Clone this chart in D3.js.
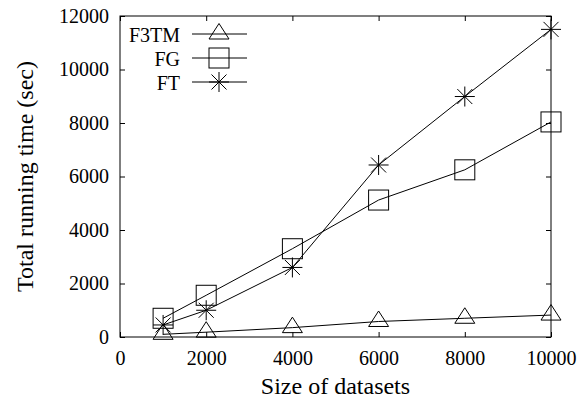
<!DOCTYPE html>
<html>
<head>
<meta charset="utf-8">
<script src="https://cdn.jsdelivr.net/npm/d3@7"></script>
<style>
  body { margin: 0; background: #fff; }
  svg { font-family: "Liberation Serif", "Times New Roman", serif; }
</style>
</head>
<body>
<svg width="577" height="399"></svg>
<script>
const sizes = [1000, 2000, 4000, 6000, 8000, 10000];
const f3tm = [100, 180, 350, 580, 700, 820];
const fg = [700, 1560, 3300, 5120, 6250, 8040];
const ft = [450, 1000, 2600, 6430, 8990, 11500];
const xTicks = [0, 2000, 4000, 6000, 8000, 10000];
const yTicks = [0, 2000, 4000, 6000, 8000, 10000, 12000];

const series = [
  { name: 'F3TM', values: f3tm, shape: 'triangle' },
  { name: 'FG', values: fg, shape: 'square' },
  { name: 'FT', values: ft, shape: 'star' }
];

const svg = d3.select('svg');
const m = { top: 16, right: 26, bottom: 62, left: 120 };
const width = +svg.attr('width') - m.left - m.right;
const height = +svg.attr('height') - m.top - m.bottom;
const g = svg.append('g').attr('transform', `translate(${m.left}, ${m.top})`);

const x = d3.scaleLinear().domain([0, 10000]).range([0, width]);
const y = d3.scaleLinear().domain([0, 12000]).range([height, 0]);
const fmt = d3.format('d');

// gnuplot style: inward ticks, mirrored on all sides
const tick = 5;
g.append('g')
  .attr('transform', `translate(0, ${height})`)
  .call(d3.axisBottom(x).tickValues(xTicks).tickFormat(fmt).tickSizeInner(-tick).tickSizeOuter(0))
  .call(a => a.selectAll('text').attr('y', 28).attr('dy', 0));
g.append('g')
  .call(d3.axisTop(x).tickValues(xTicks).tickSizeInner(-tick).tickSizeOuter(0))
  .call(a => a.selectAll('text').remove());
g.append('g')
  .call(d3.axisLeft(y).tickValues(yTicks).tickFormat(fmt).tickSizeInner(-tick).tickSizeOuter(0).tickPadding(11));
g.append('g')
  .attr('transform', `translate(${width}, 0)`)
  .call(d3.axisRight(y).tickValues(yTicks).tickSizeInner(-tick).tickSizeOuter(0))
  .call(a => a.selectAll('text').remove());
g.selectAll('.domain').remove();
g.selectAll('g').attr('font-family', null).attr('font-size', 20);
g.selectAll('.tick line').attr('stroke', '#000');
g.selectAll('.tick text').attr('fill', '#000');
g.append('rect')
  .attr('width', width).attr('height', height)
  .attr('fill', 'none').attr('stroke', '#000').attr('stroke-width', 1);

const line = d3.line()
  .x((d, i) => x(sizes[i]))
  .y(d => y(d));

function marker(sel, shape) {
  if (shape === 'triangle') {
    sel.append('path').attr('d', 'M0,-10.5L10,5L-10,5Z');
  } else if (shape === 'square') {
    sel.append('rect').attr('x', -10).attr('y', -10).attr('width', 20).attr('height', 20);
  } else {
    sel.append('path').attr('d', 'M-10,0H10M0,-10V10M-7.5,-7.5L7.5,7.5M-7.5,7.5L7.5,-7.5');
  }
  sel.attr('fill', 'none').attr('stroke', '#000').attr('stroke-width', 1);
}

series.forEach(s => {
  g.append('path')
    .datum(s.values)
    .attr('fill', 'none')
    .attr('stroke', '#000')
    .attr('stroke-width', 1)
    .attr('d', line);
  g.selectAll(null)
    .data(s.values)
    .enter().append('g')
    .attr('transform', (d, i) => `translate(${x(sizes[i])}, ${y(d)})`)
    .each(function () { marker(d3.select(this), s.shape); });
});

// legend
const leg = svg.append('g');
series.forEach((s, i) => {
  const ly = 34 + i * 24;
  leg.append('text')
    .attr('x', 180).attr('y', ly + 8)
    .attr('text-anchor', 'end').attr('font-size', 20)
    .text(s.name);
  leg.append('line')
    .attr('x1', 192).attr('x2', 247).attr('y1', ly).attr('y2', ly)
    .attr('stroke', '#000').attr('stroke-width', 1);
  leg.append('g')
    .attr('transform', `translate(219, ${ly})`)
    .call(sel => marker(sel, s.shape));
});

svg.append('text')
  .attr('x', m.left + width / 2).attr('y', 394)
  .attr('text-anchor', 'middle').attr('font-size', 24)
  .text('Size of datasets');
svg.append('text')
  .attr('transform', `translate(33, ${m.top + height / 2}) rotate(-90)`)
  .attr('text-anchor', 'middle').attr('font-size', 24)
  .text('Total running time (sec)');
</script>
</body>
</html>
